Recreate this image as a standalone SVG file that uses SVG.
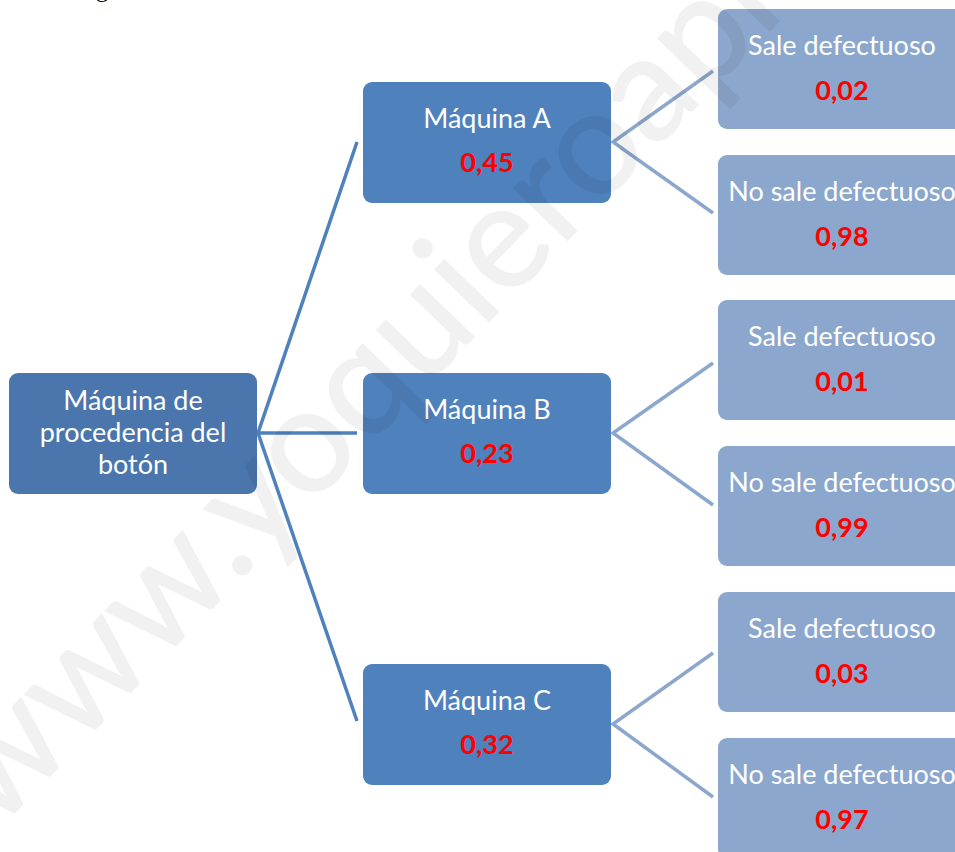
<svg xmlns="http://www.w3.org/2000/svg" width="955" height="852" viewBox="0 0 955 852">
<style>
.root{fill:#4a76ad}
.l1{fill:#4f81bd}
.l2{fill:#8ca7cd}
.t{font-family:Lato,"Liberation Sans",sans-serif;font-size:27px;fill:#fff;text-anchor:middle}
.v{font-family:Lato,"Liberation Sans",sans-serif;font-size:27px;font-weight:bold;fill:#ff0000;text-anchor:middle}
.c1{stroke:#4f81bd;stroke-width:3.5;fill:none}
.c2{stroke:#8ca7cd;stroke-width:3.5;fill:none}
.wm{font-family:Lato,"Liberation Sans",sans-serif;font-size:148px;fill:#000;stroke:#000;stroke-width:1.5;stroke-linejoin:round}
</style>
<rect width="955" height="852" fill="#fff"/>
<text x="96" y="-3" font-family="Liberation Serif,serif" font-size="24" fill="#000">g</text>
<g id="connectors">
<polyline class="c1" points="357,142 258,433 357,433"/>
<line class="c1" x1="258" y1="433" x2="357" y2="721"/>
<polyline class="c2" points="713,71 613,142 713,213"/>
<polyline class="c2" points="713,363 613,433 713,505"/>
<polyline class="c2" points="713,653 613,724 713,797"/>
</g>
<g id="root"><rect class="root" x="9" y="373" width="248" height="121" rx="9"/>
<text class="t" x="133" y="410">Máquina de</text><text class="t" x="133" y="442">procedencia del</text><text class="t" x="133" y="474">botón</text></g>
<g id="maqA"><rect class="l1" x="363" y="82" width="248" height="121" rx="9"/>
<text class="t" x="487" y="128">Máquina A</text><text class="v" x="487" y="172">0,45</text></g>
<g id="maqB"><rect class="l1" x="363" y="373" width="248" height="121" rx="9"/>
<text class="t" x="487" y="419">Máquina B</text><text class="v" x="487" y="463">0,23</text></g>
<g id="maqC"><rect class="l1" x="363" y="664" width="248" height="121" rx="9"/>
<text class="t" x="487" y="710">Máquina C</text><text class="v" x="487" y="754">0,32</text></g>
<g id="a1"><rect class="l2" x="718" y="9" width="248" height="120" rx="9"/>
<text class="t" x="842" y="55">Sale defectuoso</text><text class="v" x="842" y="100">0,02</text></g>
<g id="a2"><rect class="l2" x="718" y="155" width="248" height="120" rx="9"/>
<text class="t" x="842" y="201">No sale defectuoso</text><text class="v" x="842" y="246">0,98</text></g>
<g id="b1"><rect class="l2" x="718" y="300" width="248" height="120" rx="9"/>
<text class="t" x="842" y="346">Sale defectuoso</text><text class="v" x="842" y="391">0,01</text></g>
<g id="b2"><rect class="l2" x="718" y="446" width="248" height="120" rx="9"/>
<text class="t" x="842" y="492">No sale defectuoso</text><text class="v" x="842" y="537">0,99</text></g>
<g id="c1"><rect class="l2" x="718" y="592" width="248" height="120" rx="9"/>
<text class="t" x="842" y="638">Sale defectuoso</text><text class="v" x="842" y="683">0,03</text></g>
<g id="c2"><rect class="l2" x="718" y="738" width="248" height="120" rx="9"/>
<text class="t" x="842" y="784">No sale defectuoso</text><text class="v" x="842" y="829">0,97</text></g>
<g opacity="0.05"><text class="wm" transform="translate(-4,832) rotate(-46)">www.yoquieroaprobar.es</text></g>
</svg>
